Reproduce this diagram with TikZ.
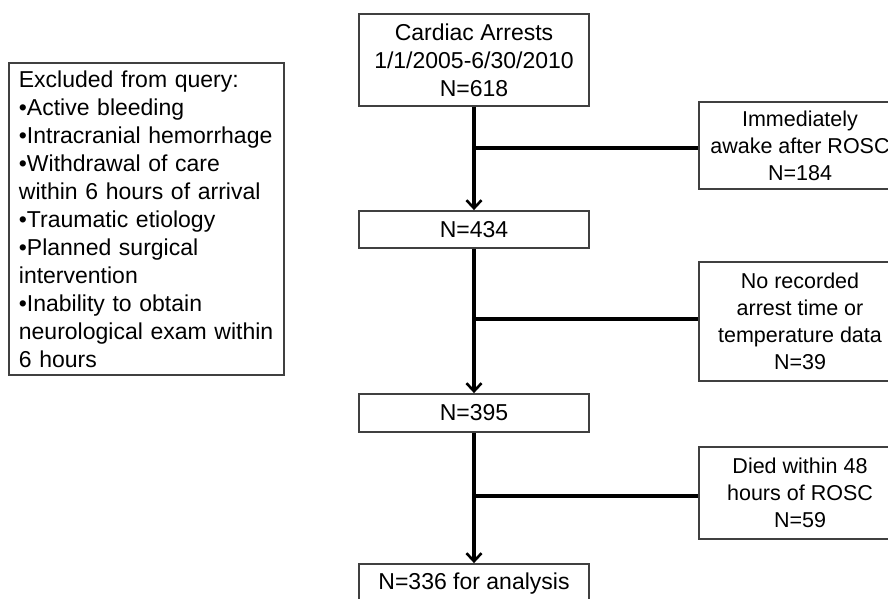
\documentclass[tikz,border=0pt]{standalone}
\usepackage{fontspec}
\setmainfont{Liberation Sans}
\usetikzlibrary{arrows.meta}

\begin{document}
\begin{tikzpicture}[x=1pt,y=1pt,font=\fontsize{23}{28}\selectfont,
  box/.style={draw=black!75,line width=1.8pt,align=center,inner sep=0pt},
  side/.style={box,minimum width=202,font=\fontsize{21.5}{27}\selectfont},
  flow/.style={line width=3.2pt,-{Straight Barb[length=8pt,width=15pt,line width=2.6pt]}}]
\clip (0,0) rectangle (888,598);
% main column
\node[box,minimum width=230,minimum height=92] (start) at (474,538)
  {Cardiac Arrests\\1/1/2005-6/30/2010\\N=618};
\node[box,minimum width=230,minimum height=37] (n434) at (474,368.5) {N=434};
\node[box,minimum width=230,minimum height=38] (n395) at (474,185) {N=395};
\node[box,minimum width=230,minimum height=40] (n336) at (474,14) {N=336 for analysis};
% exclusions on the right
\node[side,minimum height=87] (awake) at (800,452.5)
  {Immediately\\awake after ROSC\\N=184};
\node[side,minimum height=119] (norec) at (800,276.5)
  {No recorded\\arrest time or\\temperature data\\N=39};
\node[side,minimum height=92] (died) at (800,105)
  {Died within 48\\hours of ROSC\\N=59};
% query box
\node[box,align=left,text width=255pt,inner xsep=10pt,minimum height=312,anchor=north west]
  (excl) at (8,536)
  {Excluded from query:\\
   •Active bleeding\\
   •Intracranial hemorrhage\\
   •Withdrawal of care\\
   within 6 hours of arrival\\
   •Traumatic etiology\\
   •Planned surgical\\
   intervention\\
   •Inability to obtain\\
   neurological exam within\\
   6 hours};
% arrows and branches
\foreach \A/\B/\C/\Y in {start/n434/awake/450,n434/n395/norec/279,n395/n336/died/102}
  {\draw[flow] (\A.south) -- (\B.north);
   \coordinate (br-\C) at (474,\Y);
   \draw[line width=3.2pt] (br-\C) -- (br-\C -| \C.west);}
\end{tikzpicture}
\end{document}
